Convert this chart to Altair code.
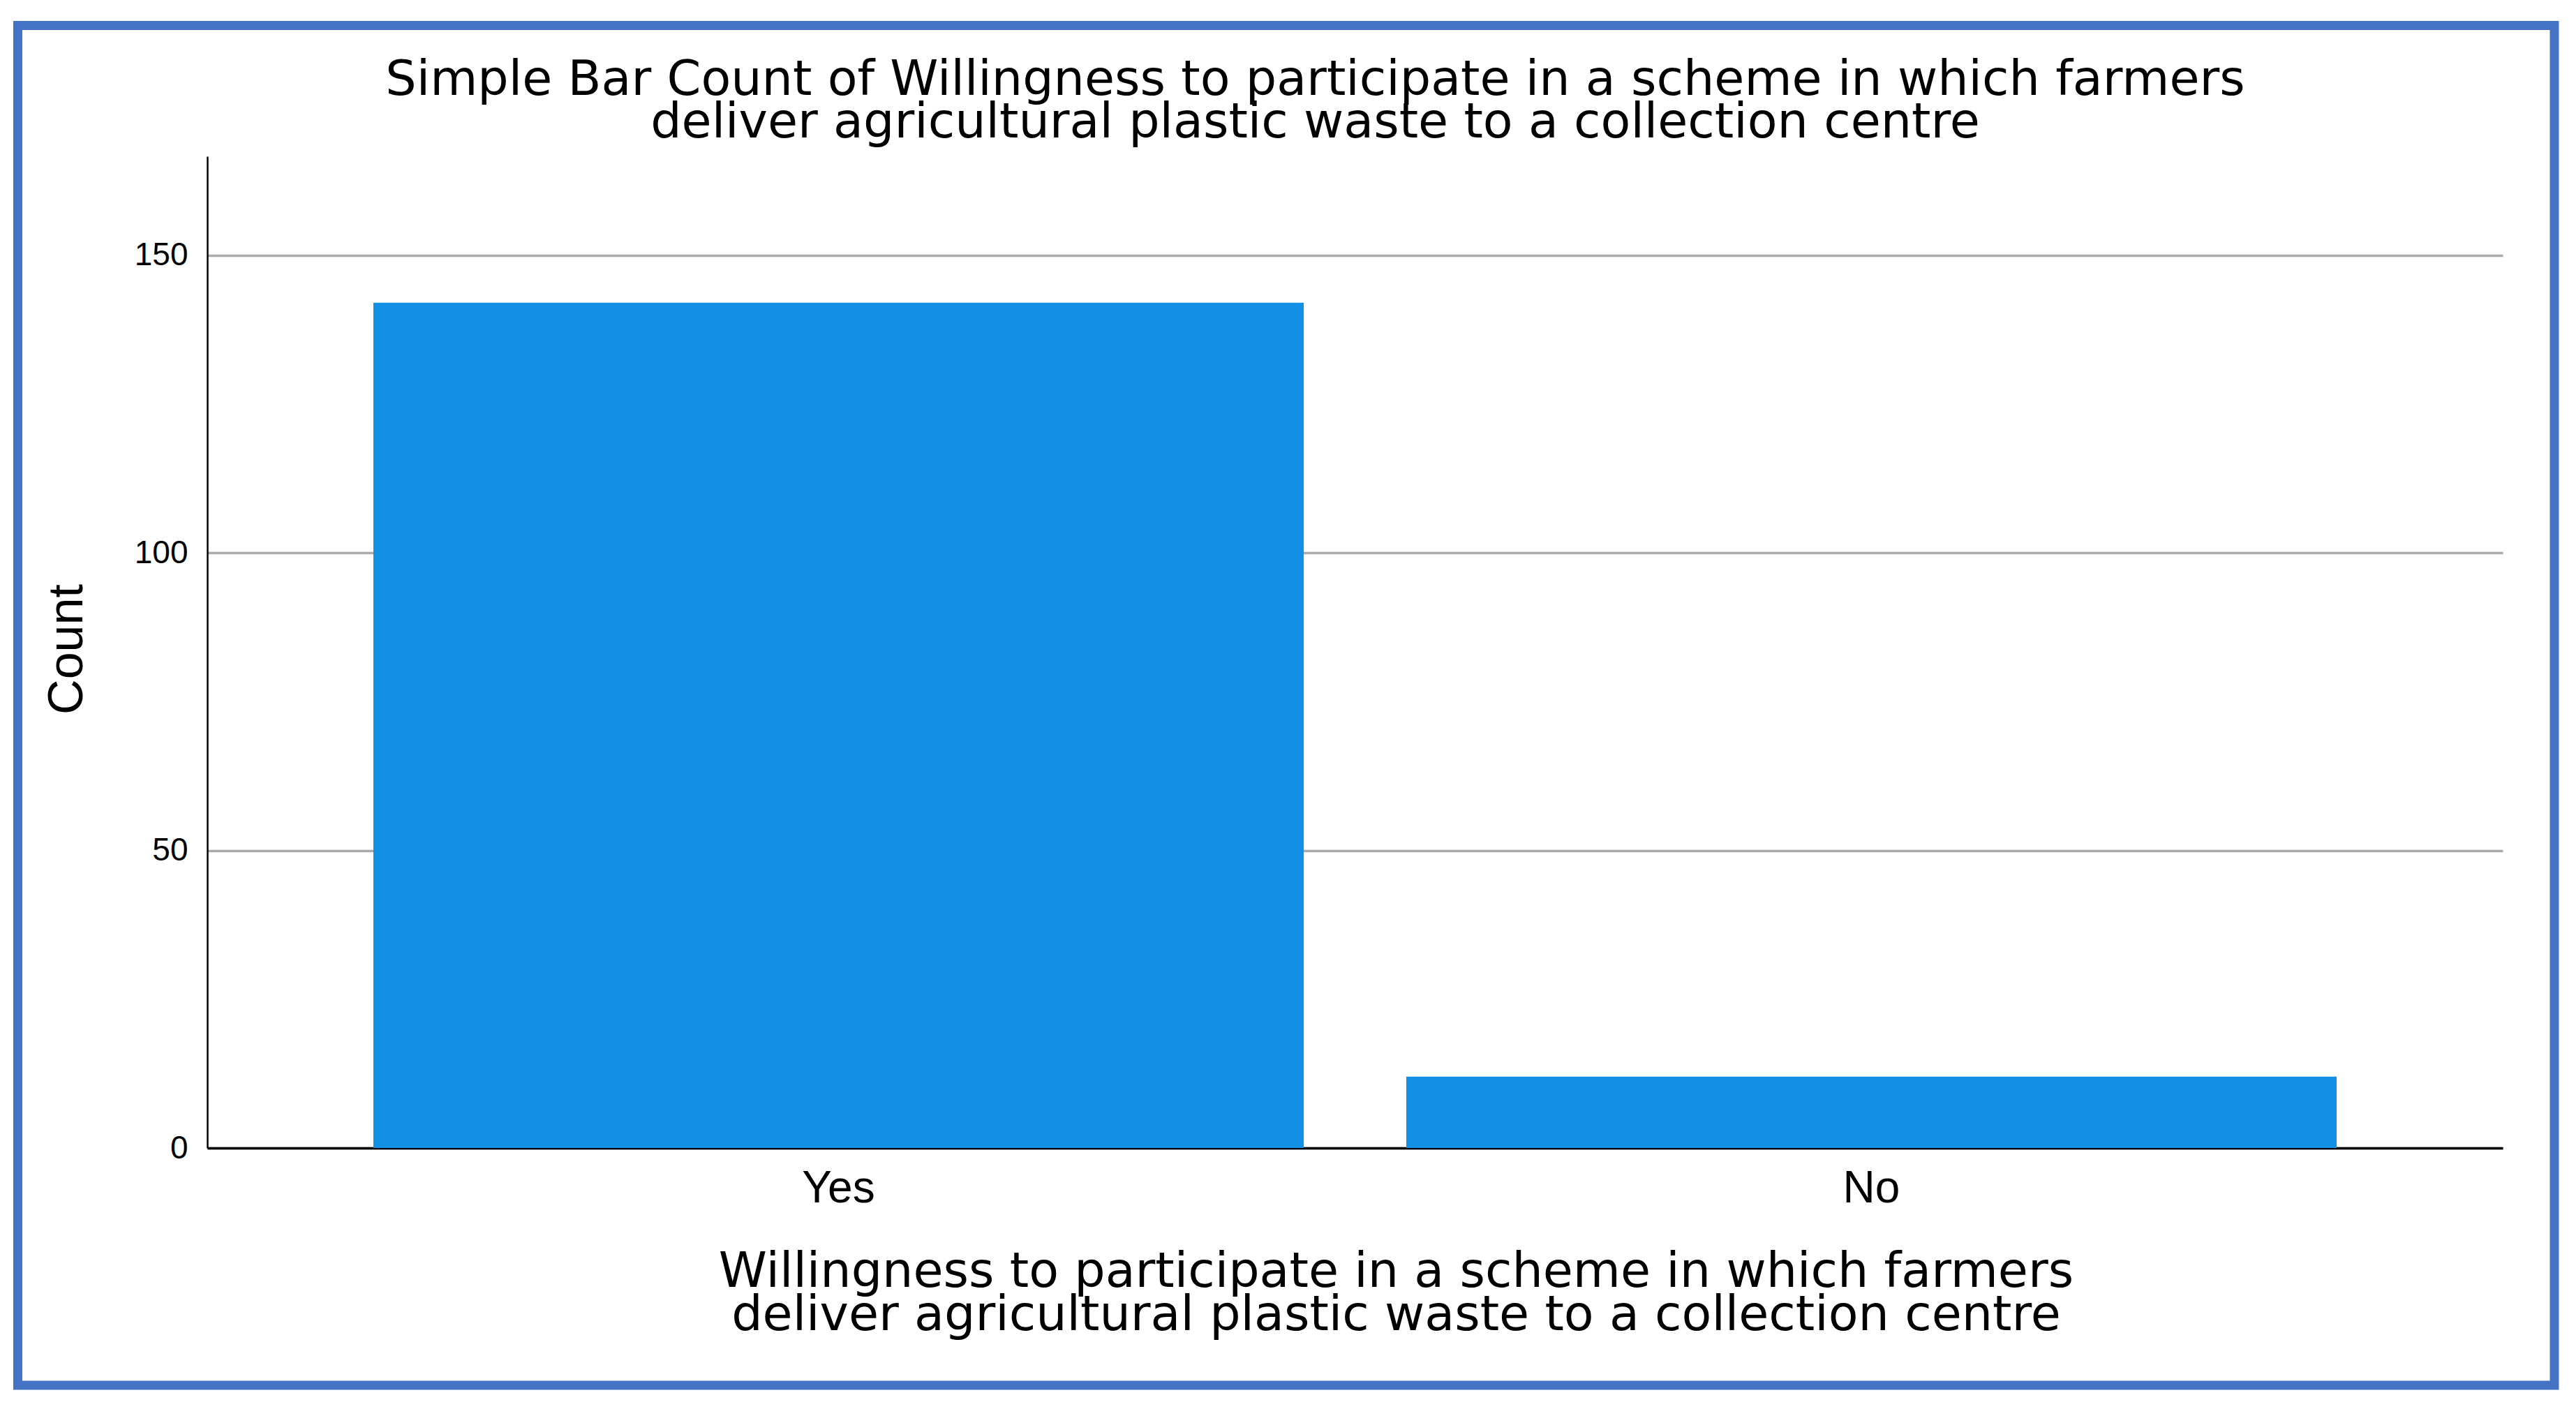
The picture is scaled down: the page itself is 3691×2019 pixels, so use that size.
import altair as alt
import pandas as pd

categories = ["Yes", "No"]
counts = [142, 12]
y_ticks = [0, 50, 100, 150]

chart_title = ["Simple Bar Count of Willingness to participate in a scheme in which farmers",
               "deliver agricultural plastic waste to a collection centre"]
x_title = ["Willingness to participate in a scheme in which farmers",
           "deliver agricultural plastic waste to a collection centre"]
y_title = "Count"

df = pd.DataFrame({"answer": categories, "count": counts})

W, H = 3289, 1421

bars = alt.Chart(df).mark_bar(color="#1190E6").encode(
    x=alt.X("answer:N", sort=categories,
            scale=alt.Scale(paddingInner=0.0993, paddingOuter=0.1608),
            axis=alt.Axis(title=x_title, labelAngle=0, ticks=False,
                          labelFont="Liberation Sans", labelFontSize=64, labelColor="black",
                          labelPadding=26, domainColor="black", domainWidth=3.5,
                          titleFont="DejaVu Sans", titleFontSize=70, titleFontWeight="normal",
                          titleColor="black", titleLineHeight=62, titleBaseline="alphabetic",
                          titleAlign="center", titleX=1703, titleY=198, titleAnchor="start")),
    y=alt.Y("count:Q", scale=alt.Scale(domain=[0, 166.6], nice=False, zero=True),
            axis=alt.Axis(title=y_title, values=y_ticks, ticks=False, grid=True,
                          gridColor="#AAAAAA", gridWidth=3.5,
                          labelFont="Liberation Sans", labelFontSize=46, labelColor="black",
                          labelPadding=28, domainColor="black", domainWidth=2.5,
                          titleFont="Liberation Sans", titleFontSize=70, titleFontWeight="normal",
                          titleColor="black", titleAngle=-90, titleBaseline="alphabetic",
                          titleAlign="center", titleX=-180, titleY=706, titleAnchor="start")),
)

frame = alt.Chart(pd.DataFrame({"a": [0]})).mark_rect(
    filled=False, stroke="#4472C4", strokeWidth=13
).encode(
    x=alt.value(-271.5), x2=alt.value(3363),
    y=alt.value(-187.5), y2=alt.value(1761),
)

chart = alt.layer(bars, frame).properties(
    width=W, height=H,
    title=alt.TitleParams(text=chart_title, font="DejaVu Sans", fontSize=70,
                          fontWeight="normal", color="black", lineHeight=61,
                          anchor="middle", dx=-57, offset=12, dy=194),
    padding={"left": 289, "top": 216, "right": 90, "bottom": 360},
    autosize=alt.AutoSizeParams(type="none"),
).configure(background="white").configure_view(stroke="transparent")

chart.save("out.html", embed_options={"renderer": "svg", "actions": False})
